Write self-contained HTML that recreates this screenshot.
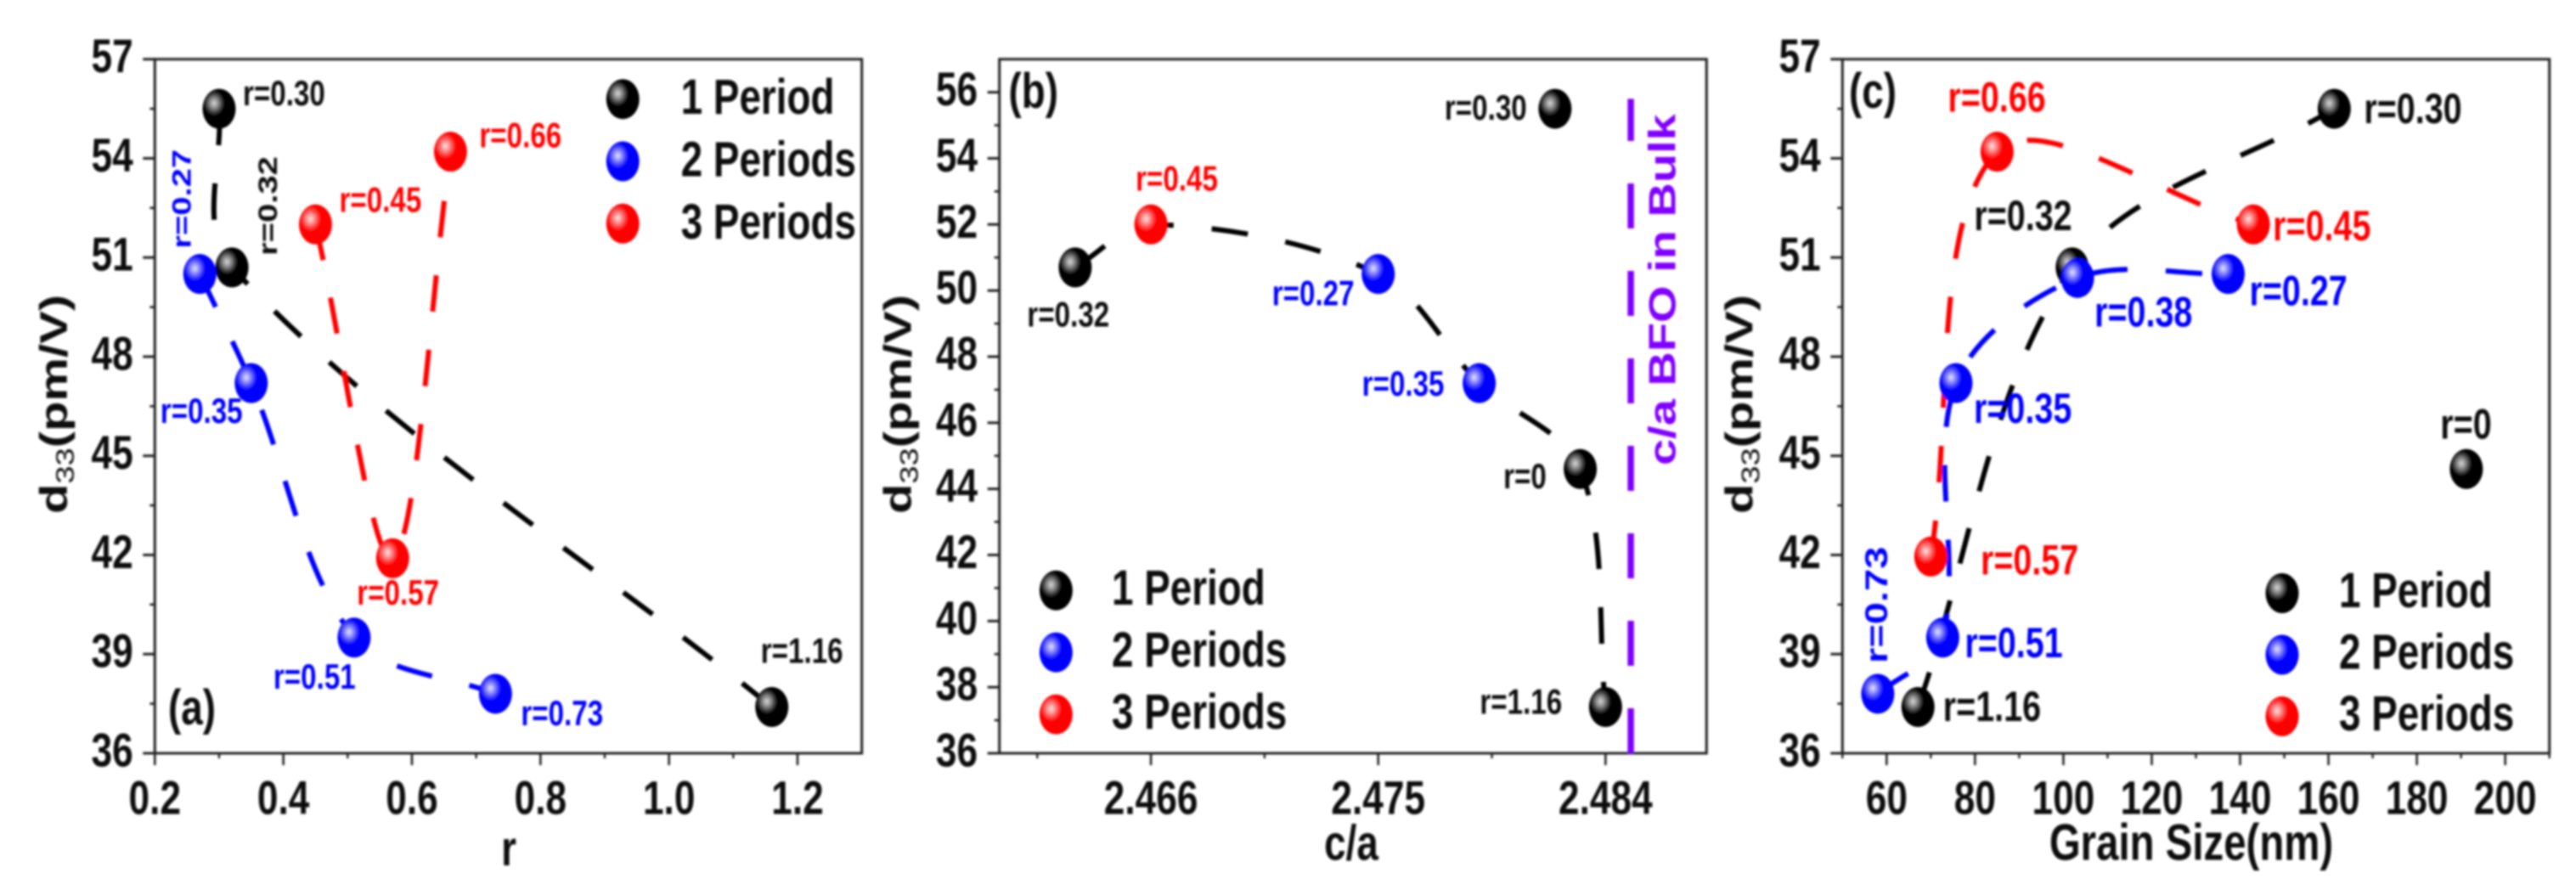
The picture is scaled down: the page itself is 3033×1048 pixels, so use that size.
<!DOCTYPE html>
<html lang="en">
<head>
<meta charset="utf-8">
<title>d33 versus r, c/a and grain size</title>
<style>
html,body{margin:0;padding:0;background:#fff;width:3033px;height:1048px;overflow:hidden}
svg{display:block}
text{font-family:"Liberation Sans",Arial,sans-serif;font-weight:bold}
</style>
</head>
<body>
<svg id="figure" xmlns="http://www.w3.org/2000/svg" width="3033" height="1048" viewBox="0 0 3033 1048">
  <defs>
    <filter id="soft" x="0" y="0" width="3033" height="1048" filterUnits="userSpaceOnUse">
      <feGaussianBlur stdDeviation="1.2"/>
    </filter>
    <radialGradient id="ball-black" cx="0.35" cy="0.36" r="0.32"><stop offset="0" stop-color="#d8d8d8"/><stop offset="0.45" stop-color="#808080"/><stop offset="1" stop-color="#000"/></radialGradient>
    <radialGradient id="ball-blue" cx="0.35" cy="0.36" r="0.32"><stop offset="0" stop-color="#e4e4ff"/><stop offset="0.45" stop-color="#8080ff"/><stop offset="1" stop-color="#0000ff"/></radialGradient>
    <radialGradient id="ball-red" cx="0.35" cy="0.36" r="0.32"><stop offset="0" stop-color="#ffe4e4"/><stop offset="0.45" stop-color="#ff8080"/><stop offset="1" stop-color="#ff0000"/></radialGradient>
  </defs>
  <g id="root" filter="url(#soft)"></g>
</svg>
<script>
/* ---------- shared data ---------- */
const legendLabels = ['1 Period', '2 Periods', '3 Periods'];

/* panel (a): d33 vs r */
const a1R = [0.30, 0.32, 1.16];
const a1D = [55.5, 50.7, 37.4];
const a1Labels = ['r=0.30', 'r=0.32', 'r=1.16'];
const a2R = [0.27, 0.35, 0.51, 0.73];
const a2D = [50.5, 47.2, 39.5, 37.8];
const a2Labels = ['r=0.27', 'r=0.35', 'r=0.51', 'r=0.73'];
const a3R = [0.45, 0.57, 0.66];
const a3D = [52.0, 41.9, 54.2];
const a3Labels = ['r=0.45', 'r=0.57', 'r=0.66'];
const aXTicks = [0.2, 0.4, 0.6, 0.8, 1.0, 1.2];
const aXTickLabels = ['0.2', '0.4', '0.6', '0.8', '1.0', '1.2'];
const aXMinor = [0.3, 0.5, 0.7, 0.9, 1.1];
const aYTicks = [36, 39, 42, 45, 48, 51, 54, 57];
const aYTickLabels = ['36', '39', '42', '45', '48', '51', '54', '57'];
const aYMinor = [37.5, 40.5, 43.5, 46.5, 49.5, 52.5, 55.5];

/* panel (b): d33 vs c/a */
const b1Ca = [2.482, 2.463, 2.483, 2.484];
const b1D = [55.5, 50.7, 44.6, 37.4];
const b1Labels = ['r=0.30', 'r=0.32', 'r=0', 'r=1.16'];
const b2Ca = [2.475, 2.479];
const b2D = [50.5, 47.2];
const b2Labels = ['r=0.27', 'r=0.35'];
const b3Ca = [2.466];
const b3D = [52.0];
const b3Labels = ['r=0.45'];
const bXTicks = [2.466, 2.475, 2.484];
const bXTickLabels = ['2.466', '2.475', '2.484'];
const bXMinor = [2.4615, 2.4705, 2.4795];
const bYTicks = [36, 38, 40, 42, 44, 46, 48, 50, 52, 54, 56];
const bYTickLabels = ['36', '38', '40', '42', '44', '46', '48', '50', '52', '54', '56'];
const bYMinor = [37, 39, 41, 43, 45, 47, 49, 51, 53, 55];
const bulkCa = [2.485, 2.485];
const bulkD = [36, 55.8];

/* panel (c): d33 vs grain size */
const c1G = [67.1, 102, 161.3, 191.2];
const c1D = [37.4, 50.7, 55.5, 44.6];
const c1Labels = ['r=1.16', 'r=0.32', 'r=0.30', 'r=0'];
const c2G = [58, 72.7, 75.7, 103.2, 137.3];
const c2D = [37.8, 39.5, 47.2, 50.38, 50.5];
const c2Labels = ['r=0.73', 'r=0.51', 'r=0.35', 'r=0.38', 'r=0.27'];
const c3G = [70, 85, 143];
const c3D = [41.95, 54.2, 52.0];
const c3Labels = ['r=0.57', 'r=0.66', 'r=0.45'];
const cXTicks = [60, 80, 100, 120, 140, 160, 180, 200];
const cXTickLabels = ['60', '80', '100', '120', '140', '160', '180', '200'];
const cXMinor = [50, 70, 90, 110, 130, 150, 170, 190, 210];
const cYTicks = [36, 39, 42, 45, 48, 51, 54, 57];
const cYTickLabels = ['36', '39', '42', '45', '48', '51', '54', '57'];
const cYMinor = [37.5, 40.5, 43.5, 46.5, 49.5, 52.5, 55.5];

/* ---------- helpers ---------- */
const NS = 'http://www.w3.org/2000/svg';
const root = document.getElementById('root');
const SQUEEZE = 0.79;
const TOP = 69.7, BOTTOM = 887, YMIN = 36, YMAX = 57;

function make(tag, parent) {
  const el = document.createElementNS(NS, tag);
  parent.appendChild(el);
  return el;
}
function geom(el, o) {
  for (const k in o) el.setAttribute(k, o[k]);
  return el;
}
function yScale(v) { return BOTTOM - (v - YMIN) * (BOTTOM - TOP) / (YMAX - YMIN); }
function linear(d0, d1, r0, r1) { return v => r0 + (v - d0) * (r1 - r0) / (d1 - d0); }
function placeText(el, x, y, rotated) {
  el.setAttribute('transform', 'translate(' + x + ',' + y + ') scale(' + SQUEEZE + ',1)' + (rotated ? ' rotate(-90)' : ''));
}

function drawFrame(g, left, right) {
  const el = make('rect', g);
  
  
  geom(el, { x: left, y: TOP, width: right - left, height: BOTTOM - TOP, fill: 'none', stroke: '#222', 'stroke-width': 3 });
}
function drawXAxis(g, x, ticks, labels, minor) {
  ticks.forEach((t, i) => {
    const el = make('line', g);
    
    
    geom(el, { x1: x(t), x2: x(t), y1: BOTTOM, y2: BOTTOM + 14, stroke: '#222', 'stroke-width': 2.6 });
    const tx = make('text', g);
    
    
    geom(tx, { 'font-size': 56, 'text-anchor': 'middle', fill: '#111' });
    placeText(tx, x(t), 958.5, false);
    tx.textContent = labels[i];
  });
  minor.forEach(t => {
    const el = make('line', g);
    
    
    geom(el, { x1: x(t), x2: x(t), y1: BOTTOM, y2: BOTTOM + 6, stroke: '#222', 'stroke-width': 2.4 });
  });
}
function drawYAxis(g, left, ticks, labels, minor) {
  ticks.forEach((t, i) => {
    const el = make('line', g);
    
    
    geom(el, { x1: left - 14, x2: left, y1: yScale(t), y2: yScale(t), stroke: '#222', 'stroke-width': 3 });
    const tx = make('text', g);
    
    
    geom(tx, { 'font-size': 56, 'text-anchor': 'end', fill: '#111' });
    placeText(tx, left - 25.6, yScale(t) + 15.5, false);
    tx.textContent = labels[i];
  });
  minor.forEach(t => {
    const el = make('line', g);
    
    
    geom(el, { x1: left - 6, x2: left, y1: yScale(t), y2: yScale(t), stroke: '#222', 'stroke-width': 2.6 });
  });
}
function drawYTitle(g, x) {
  const tx = make('text', g);
  
  
  geom(tx, { 'font-size': 58, fill: '#111' });
  placeText(tx, x, 605, true);
  const a = make('tspan', tx);
  a.textContent = 'd';
  const b = make('tspan', tx);
  geom(b, { dy: 10, 'font-size': 38, 'font-weight': 'normal' });
  b.textContent = '33';
  const c = make('tspan', tx);
  geom(c, { dy: -10 });
  c.textContent = '(pm/V)';
}
function drawXTitle(g, text, x, y, size) {
  const tx = make('text', g);
  
  
  geom(tx, { 'font-size': size, 'text-anchor': 'middle', fill: '#111' });
  placeText(tx, x, y, false);
  tx.textContent = text;
}
function drawPanelTag(g, text, x, y) {
  const tx = make('text', g);
  
  
  geom(tx, { 'font-size': 58, fill: '#111' });
  placeText(tx, x, y, false);
  tx.textContent = text;
}
/* chord-scaled Catmull-Rom spline through data points expressed in pixels */
function dist(p, q) { return Math.hypot(p[0] - q[0], p[1] - q[1]) || 1; }
function splinePath(pts) {
  let d = 'M' + pts[0][0] + ' ' + pts[0][1];
  for (let i = 0; i < pts.length - 1; i++) {
    const p0 = pts[Math.max(i - 1, 0)], p1 = pts[i], p2 = pts[i + 1], p3 = pts[Math.min(i + 2, pts.length - 1)];
    const d12 = dist(p1, p2);
    const k1 = (i === 0 ? d12 / d12 : d12 / (dist(p0, p1) + d12)) / 3;
    const k2 = (i === pts.length - 2 ? d12 / d12 : d12 / (d12 + dist(p2, p3))) / 3;
    const c1x = p1[0] + (p2[0] - p0[0]) * k1, c1y = p1[1] + (p2[1] - p0[1]) * k1;
    const c2x = p2[0] - (p3[0] - p1[0]) * k2, c2y = p2[1] - (p3[1] - p1[1]) * k2;
    d += ' C' + c1x + ' ' + c1y + ' ' + c2x + ' ' + c2y + ' ' + p2[0] + ' ' + p2[1];
  }
  return d;
}
function drawCurve(g, x, xs, ys, color, offset) {
  const pts = xs.map((v, i) => [x(v), yScale(ys[i])]);
  const el = make('path', g);
  
  
  geom(el, { d: splinePath(pts), fill: 'none', stroke: color, 'stroke-width': 6, 'stroke-dasharray': '43 45', 'stroke-dashoffset': offset });
}
function drawMarkers(g, x, xs, ys, ball) {
  xs.forEach((v, i) => {
    const el = make('ellipse', g);
    
    
    geom(el, { cx: x(v), cy: yScale(ys[i]), rx: 19.5, ry: 23.5, fill: 'url(#' + ball + ')' });
  });
}
function drawPointLabel(g, px, py, text, color, dx, dy, size, rotated) {
  const tx = make('text', g);
  
  
  geom(tx, { 'font-size': size, fill: color });
  placeText(tx, px + dx, yScale(py) + dy, rotated);
  tx.textContent = text;
}
function drawLegend(g, markerX, textX, startY, step, base) {
  const balls = ['ball-black', 'ball-blue', 'ball-red'];
  legendLabels.forEach((label, i) => {
    const m = make('ellipse', g);
    
    
    geom(m, { cx: markerX, cy: startY + i * step, rx: 19.5, ry: 23.5, fill: 'url(#' + balls[i] + ')' });
    const tx = make('text', g);
    
    
    geom(tx, { 'font-size': 58, fill: '#111' });
    placeText(tx, textX, startY + i * step + base, false);
    tx.textContent = label;
  });
}
function makePanel(name) {
  const g = make('g', root);
  
  
  return g;
}

/* ---------- panel (a) ---------- */
(function () {
  const g = makePanel('panel-a');
  const left = 182.3, right = 1014.7;
  const x = linear(0.2, 1.3, left, right);
  drawFrame(g, left, right);
  drawXAxis(g, x, aXTicks, aXTickLabels, aXMinor);
  drawYAxis(g, left, aYTicks, aYTickLabels, aYMinor);
  drawYTitle(g, 78.8);
  drawXTitle(g, 'r', 599, 1019, 58);
  drawPanelTag(g, '(a)', 198, 853);
  drawCurve(g, x, a1R, a1D, '#000', 0);
  drawCurve(g, x, a2R, a2D, '#0000ff', 0);
  drawCurve(g, x, a3R, a3D, '#ff0000', 0);
  drawMarkers(g, x, a1R, a1D, 'ball-black');
  drawMarkers(g, x, a2R, a2D, 'ball-blue');
  drawMarkers(g, x, a3R, a3D, 'ball-red');
  drawPointLabel(g, x(a1R[0]), a1D[0], a1Labels[0], '#111', 28, -4, 42, false);
  drawPointLabel(g, x(a1R[1]), a1D[1], a1Labels[1], '#111', 53, -14, 40, true);
  drawPointLabel(g, x(a1R[2]), a1D[2], a1Labels[2], '#111', -13, -52, 42, false);
  drawPointLabel(g, x(a2R[0]), a2D[0], a2Labels[0], '#0000ff', -10.6, -30, 40, true);
  drawPointLabel(g, x(a2R[1]), a2D[1], a2Labels[1], '#0000ff', -107, 47, 42, false);
  drawPointLabel(g, x(a2R[2]), a2D[2], a2Labels[2], '#0000ff', -95, 60, 42, false);
  drawPointLabel(g, x(a2R[3]), a2D[3], a2Labels[3], '#0000ff', 30, 37, 42, false);
  drawPointLabel(g, x(a3R[0]), a3D[0], a3Labels[0], '#ff0000', 28, -15, 42, false);
  drawPointLabel(g, x(a3R[1]), a3D[1], a3Labels[1], '#ff0000', -42, 54.5, 42, false);
  drawPointLabel(g, x(a3R[2]), a3D[2], a3Labels[2], '#ff0000', 34, -5, 42, false);
  drawLegend(g, 733.3, 801.7, 116.7, 73.3, 17.5);
})();

/* ---------- panel (b) ---------- */
(function () {
  const g = makePanel('panel-b');
  const left = 1176.7, right = 2009.3;
  const x = linear(2.46, 2.488, left, right);
  drawFrame(g, left, right);
  drawXAxis(g, x, bXTicks, bXTickLabels, bXMinor);
  drawYAxis(g, left, bYTicks, bYTickLabels, bYMinor);
  drawYTitle(g, 1072.6);
  drawXTitle(g, 'c/a', 1591, 1012.7, 58);
  drawPanelTag(g, '(b)', 1187.5, 127);
  const curveX = [b1Ca[1], b3Ca[0], b2Ca[0], b2Ca[1], b1Ca[2], b1Ca[3]];
  const curveY = [b1D[1], b3D[0], b2D[0], b2D[1], b1D[2], b1D[3]];
  drawCurve(g, x, curveX, curveY, '#000', 0);
  const bulk = make('line', g);
  
  
  geom(bulk, { x1: x(bulkCa[0]), x2: x(bulkCa[1]), y1: yScale(bulkD[0]), y2: yScale(bulkD[1]), stroke: '#8000ff', 'stroke-width': 7.5, 'stroke-dasharray': '53 50' });
  const bulkText = make('text', g);
  
  
  geom(bulkText, { 'font-size': 56, fill: '#8000ff' });
  placeText(bulkText, 1972.7, 548, true);
  bulkText.textContent = 'c/a BFO in Bulk';
  drawMarkers(g, x, b1Ca, b1D, 'ball-black');
  drawMarkers(g, x, b2Ca, b2D, 'ball-blue');
  drawMarkers(g, x, b3Ca, b3D, 'ball-red');
  drawPointLabel(g, x(b1Ca[0]), b1D[0], b1Labels[0], '#111', -130, 13, 42, false);
  drawPointLabel(g, x(b1Ca[1]), b1D[1], b1Labels[1], '#111', -56.5, 69.5, 42, false);
  drawPointLabel(g, x(b1Ca[2]), b1D[2], b1Labels[2], '#111', -90.5, 22.6, 42, false);
  drawPointLabel(g, x(b1Ca[3]), b1D[3], b1Labels[3], '#111', -148, 8, 42, false);
  drawPointLabel(g, x(b2Ca[0]), b2D[0], b2Labels[0], '#0000ff', -125, 37, 42, false);
  drawPointLabel(g, x(b2Ca[1]), b2D[1], b2Labels[1], '#0000ff', -138, 15, 42, false);
  drawPointLabel(g, x(b3Ca[0]), b3D[0], b3Labels[0], '#ff0000', -18, -40, 42, false);
  drawLegend(g, 1243.4, 1309, 695.2, 73, 17);
})();

/* ---------- panel (c) ---------- */
(function () {
  const g = makePanel('panel-c');
  const left = 2169.3, right = 3001.7;
  const x = linear(50, 210, left, right);
  drawFrame(g, left, right);
  drawXAxis(g, x, cXTicks, cXTickLabels, cXMinor);
  drawYAxis(g, left, cYTicks, cYTickLabels, cYMinor);
  drawYTitle(g, 2063.3);
  drawXTitle(g, 'Grain Size(nm)', 2580, 1012.7, 60);
  drawPanelTag(g, '(c)', 2177, 127);
  drawCurve(g, x, c1G.slice(0, 3), c1D.slice(0, 3), '#000', 0);
  drawCurve(g, x, c3G, c3D, '#ff0000', 0);
  drawCurve(g, x, c2G, c2D, '#0000ff', 0);
  drawMarkers(g, x, c1G, c1D, 'ball-black');
  drawMarkers(g, x, c3G, c3D, 'ball-red');
  drawMarkers(g, x, c2G, c2D, 'ball-blue');
  drawPointLabel(g, x(c1G[0]), c1D[0], c1Labels[0], '#111', 29.5, 16.5, 50, false);
  drawPointLabel(g, x(c1G[1]), c1D[1], c1Labels[1], '#111', -115.5, -44, 50, false);
  drawPointLabel(g, x(c1G[2]), c1D[2], c1Labels[2], '#111', 35, 17, 50, false);
  drawPointLabel(g, x(c1G[3]), c1D[3], c1Labels[3], '#111', -30.6, -36, 50, false);
  drawPointLabel(g, x(c2G[0]), c2D[0], c2Labels[0], '#0000ff', 11, -36, 47, true);
  drawPointLabel(g, x(c2G[1]), c2D[1], c2Labels[1], '#0000ff', 26, 23, 50, false);
  drawPointLabel(g, x(c2G[2]), c2D[2], c2Labels[2], '#0000ff', 21, 47, 50, false);
  drawPointLabel(g, x(c2G[3]), c2D[3], c2Labels[3], '#0000ff', 20, 57, 50, false);
  drawPointLabel(g, x(c2G[4]), c2D[4], c2Labels[4], '#0000ff', 25, 37, 50, false);
  drawPointLabel(g, x(c3G[0]), c3D[0], c3Labels[0], '#ff0000', 58.6, 21, 50, false);
  drawPointLabel(g, x(c3G[1]), c3D[1], c3Labels[1], '#ff0000', -58, -47, 50, false);
  drawPointLabel(g, x(c3G[2]), c3D[2], c3Labels[2], '#ff0000', 23, 18.5, 50, false);
  drawLegend(g, 2687, 2754, 698.5, 72.5, 16.5);
})();
</script>
</body>
</html>
